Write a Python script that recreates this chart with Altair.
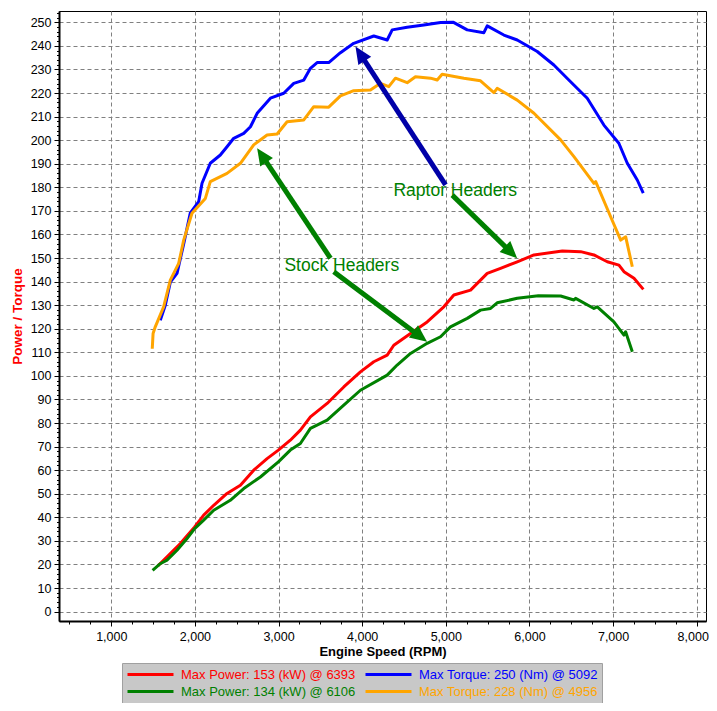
import math
import altair as alt
import pandas as pd

# ---------------- data ----------------
series_names = [
    "Max Power: 153 (kW) @ 6393",
    "Max Torque: 250 (Nm) @ 5092",
    "Max Power: 134 (kW) @ 6106",
    "Max Torque: 228 (Nm) @ 4956",
]
series_colors = ["#ff0000", "#0000ff", "#008000", "#ffa500"]
# legend fills columns first: column 1 = power curves, column 2 = torque curves
legend_order = [0, 2, 1, 3]

red_rpm = [1560, 1586, 1826, 1997, 2105, 2225, 2384, 2544, 2703, 2863, 2998, 3141, 3261, 3381,
           3581, 3780, 3979, 4139, 4299, 4378, 4578, 4777, 4976, 5096, 5296, 5495, 5654, 5854,
           6054, 6393, 6612, 6771, 6931, 7070, 7130, 7250, 7362]
red_val = [19.5, 20.4, 28.9, 35.9, 40.9, 45.1, 50.1, 53.6, 60.0, 64.9, 68.5, 72.7, 77.0, 82.6,
           88.3, 95.3, 101.7, 106.0, 108.8, 113.0, 118.0, 122.9, 129.3, 134.3, 136.4, 143.5, 145.6, 148.4,
           151.3, 153.0, 152.7, 151.3, 148.4, 147.0, 144.2, 141.4, 136.7]

blue_rpm = [1586, 1646, 1706, 1786, 1866, 1944, 2045, 2085, 2184, 2304, 2384, 2464, 2584, 2664,
            2744, 2903, 3062, 3182, 3302, 3381, 3461, 3600, 3740, 3899, 4139, 4299, 4359, 4538,
            4737, 4937, 5092, 5256, 5455, 5495, 5694, 5854, 6093, 6292, 6492, 6691, 6890, 7069,
            7170, 7289, 7361]
blue_val = [123.6, 130.0, 139.8, 143.5, 156.0, 169.0, 173.9, 181.7, 190.2, 193.7, 197.2, 200.8, 202.9, 205.7,
            211.4, 217.8, 219.9, 224.1, 225.5, 230.5, 232.9, 232.9, 237.1, 241.1, 244.2, 242.5, 246.8, 247.9,
            248.9, 249.9, 250.0, 246.8, 245.6, 248.5, 244.6, 242.5, 237.6, 231.9, 224.8, 217.8, 206.4, 198.7,
            190.2, 183.1, 177.5]

green_rpm = [1494, 1586, 1666, 1786, 1906, 1997, 2105, 2225, 2423, 2584, 2783, 2998, 3141, 3261,
             3381, 3581, 3780, 3979, 4299, 4418, 4578, 4777, 4937, 5056, 5256, 5415, 5535, 5614,
             5854, 6106, 6373, 6532, 6552, 6771, 6811, 7010, 7130, 7150, 7230]
green_val = [17.5, 20.3, 21.8, 26.0, 31.0, 35.2, 38.8, 43.0, 47.2, 52.2, 57.1, 63.5, 68.5, 71.3,
             77.7, 81.2, 87.6, 93.9, 100.3, 104.6, 109.5, 113.8, 116.6, 120.8, 124.4, 127.9, 128.6, 131.0,
             132.9, 134.0, 133.9, 132.2, 132.9, 128.6, 129.3, 122.9, 117.3, 118.7, 110.2]

orange_rpm = [1490, 1500, 1526, 1626, 1706, 1806, 1866, 1965, 2125, 2184, 2384, 2544, 2703, 2863,
              2983, 3102, 3302, 3421, 3600, 3740, 3899, 4099, 4219, 4318, 4398, 4538, 4637, 4817,
              4897, 4956, 5216, 5415, 5575, 5614, 5854, 6054, 6373, 6532, 6771, 6792, 6971, 7091,
              7151, 7230]
orange_val = [111.5, 118.0, 120.8, 129.3, 140.6, 147.7, 157.6, 169.0, 175.3, 182.4, 185.9, 190.2, 198.0, 202.2,
              202.6, 207.8, 208.6, 214.2, 214.0, 218.8, 221.0, 221.3, 224.1, 222.7, 226.3, 224.4, 226.9, 226.3,
              225.5, 228.0, 226.3, 225.2, 220.2, 222.0, 217.0, 211.4, 200.1, 193.0, 181.7, 182.4, 167.5, 157.6,
              159.0, 146.3]

# annotations
label_text = ["Raptor Headers", "Stock Headers"]
label_rpm = [4374, 3070]
label_val = [176.1, 144.6]

arrow_tail_rpm = [4997, 5077, 3621, 3660]
arrow_tail_val = [181.0, 176.7, 149.9, 144.2]
arrow_tip_rpm = [3920, 5853, 2744, 4776]
arrow_tip_val = [239.7, 149.9, 196.6, 114.5]
arrow_colors = ["#0000a8", "#008000", "#008000", "#008000"]

x_domain = [375, 8111]
y_domain = [-4, 254.8]
W, H = 647, 610

# ---------------- build tables ----------------
rows = []
for name, rpm, val in zip(series_names,
                          [red_rpm, blue_rpm, green_rpm, orange_rpm],
                          [red_val, blue_val, green_val, orange_val]):
    for i, (r, v) in enumerate(zip(rpm, val)):
        rows.append({"series": name, "rpm": r, "val": v, "ord": i})
df = pd.DataFrame(rows)

xs = W / (x_domain[1] - x_domain[0])
ys = H / (y_domain[1] - y_domain[0])
arows = []
for tr, tv, pr, pv, c in zip(arrow_tail_rpm, arrow_tail_val, arrow_tip_rpm, arrow_tip_val, arrow_colors):
    dx = (pr - tr) * xs
    dy = -(pv - tv) * ys
    length = math.hypot(dx, dy)
    ang = math.degrees(math.atan2(dx, -dy)) % 360
    f = 12.0 / length
    arows.append({"tr": tr, "tv": tv, "pr": pr, "pv": pv,
                  "er": pr + (tr - pr) * f, "ev": pv + (tv - pv) * f,
                  "angle": ang, "color": c})
adf = pd.DataFrame(arows)
ldf = pd.DataFrame({"text": label_text, "rpm": label_rpm, "val": label_val})

FONT = "Liberation Sans"
major_x = "datum.value % 1000 === 0"
major_y = "datum.value % 10 === 0"

x_enc = alt.X(
    "rpm:Q",
    scale=alt.Scale(domain=x_domain, nice=False, zero=False),
    axis=alt.Axis(
        values=list(range(500, 8001, 250)),
        tickCount=1000,
        labelExpr=f"{major_x} ? format(datum.value, ',') : ''",
        tickSize={"condition": {"test": major_x, "value": 5}, "value": 3},
        gridOpacity={"condition": {"test": major_x, "value": 1}, "value": 0},
        labelOffset={"condition": {"test": "datum.value === 8000", "value": -4}, "value": 0},
        labelOverlap=False,
        labelFlush=False,
        labelPadding=4,
        titlePadding=3,
        title="Engine Speed (RPM)",
    ),
)
y_enc = alt.Y(
    "val:Q",
    scale=alt.Scale(domain=y_domain, nice=False, zero=False),
    axis=alt.Axis(
        values=list(range(0, 255, 2)),
        tickCount=1000,
        labelExpr=f"{major_y} ? datum.value : ''",
        tickSize={"condition": {"test": major_y, "value": 5}, "value": 2.5},
        gridOpacity={"condition": {"test": major_y, "value": 1}, "value": 0},
        labelOverlap=False,
        labelFlush=False,
        labelPadding=3,
        titlePadding=6,
        title="Power / Torque",
        titleColor="#ff0000",
        titleFontSize=13.5,
    ),
)

label_color_expr = " : ".join(
    f"datum.value === '{n}' ? '{c}'" for n, c in zip(series_names, series_colors)
) + " : 'black'"

color_scale = alt.Scale(
    domain=[series_names[i] for i in legend_order],
    range=[series_colors[i] for i in legend_order],
)
legend = alt.Legend(
    orient="none", legendX=63, legendY=652, columns=2, title=None,
    symbolType="stroke", symbolSize=2116, symbolStrokeWidth=3,
    labelFont=FONT, labelFontSize=13, labelOffset=6, labelLimit=0,
    labelColor={"expr": label_color_expr},
    fillColor="#c8c8c8", strokeColor="#a0a0a0",
    padding=4, rowPadding=2, columnPadding=8, clipHeight=15,
)

layers = []
for name in series_names:
    layers.append(
        alt.Chart(df[df.series == name]).mark_line(strokeWidth=3, strokeJoin="round").encode(
            x=x_enc, y=y_enc,
            color=alt.Color("series:N", scale=color_scale, legend=legend),
            order="ord:Q",
        )
    )

shafts = alt.Chart(adf).mark_rule(strokeWidth=5).encode(
    x="tr:Q", y="tv:Q", x2="er:Q", y2="ev:Q",
    color=alt.Color("color:N", scale=None),
)
heads = alt.Chart(adf).mark_point(
    shape="M0,0L-0.45,1L0.45,1Z", filled=True, opacity=1, size=1156, strokeWidth=0
).encode(
    x="pr:Q", y="pv:Q",
    angle=alt.Angle("angle:Q", scale=None),
    color=alt.Color("color:N", scale=None),
)
texts = alt.Chart(ldf).mark_text(
    align="left", baseline="alphabetic", font=FONT, fontSize=17.5, color="#008000"
).encode(x="rpm:Q", y="val:Q", text="text:N")

chart = alt.layer(*layers, texts, shafts, heads).properties(
    width=W, height=H,
    autosize="none",
    background="#ffffff",
    padding={"left": 51, "top": 3, "right": 3, "bottom": 82},
).configure_view(
    stroke="#000000", strokeWidth=1
).configure_axis(
    labelFont=FONT, labelFontSize=12.5, labelColor="#000000",
    titleFont=FONT, titleFontSize=13, titleFontWeight="bold", titleColor="#000000",
    domainColor="#000000", domainWidth=2,
    tickColor="#000000", tickWidth=1,
    gridColor="#808080", gridDash=[4, 3], gridWidth=1,
)

chart.save("out.html", embed_options={"renderer": "svg", "actions": False})
